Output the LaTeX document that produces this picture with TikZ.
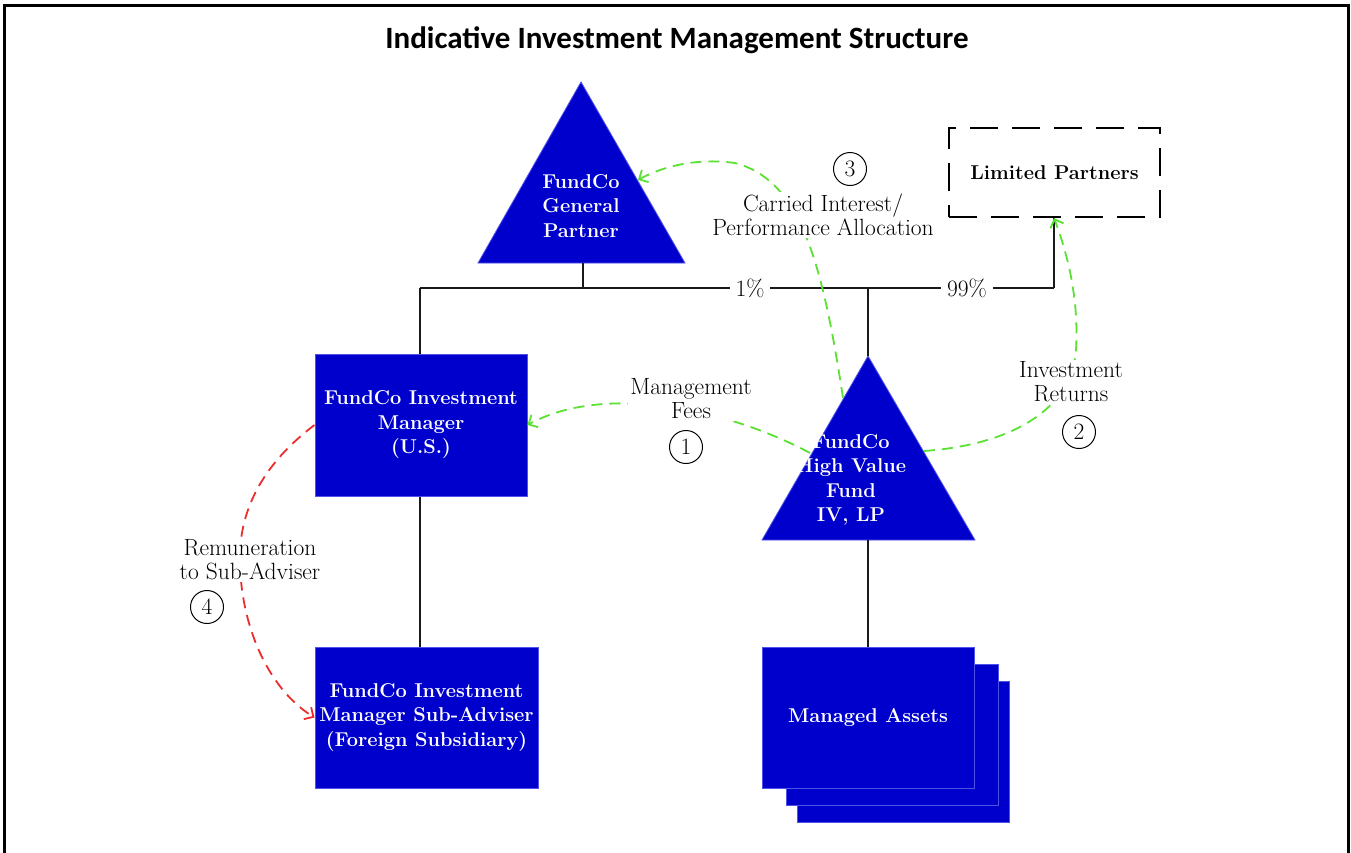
\documentclass[tikz,border=0pt]{standalone}
\usepackage{fontspec}
\newfontfamily\titlefont{Carlito}
\usetikzlibrary{arrows.meta}
\definecolor{boxblue}{RGB}{0,0,204}
\definecolor{edgeblue}{RGB}{80,80,235}
\definecolor{flowgreen}{RGB}{90,225,50}
\definecolor{flowred}{RGB}{235,45,45}
\newcommand\lblfont{\fontsize{23.5}{24}\selectfont}
\newcommand\boxfont{\fontsize{20}{24.5}\selectfont\bfseries}
\begin{document}
\begin{tikzpicture}[x=1pt,y=-1pt,
  bluebox/.style={fill=boxblue, draw=edgeblue, line width=1pt, text=white, font=\boxfont, align=center, inner sep=0pt},
  tri/.style={fill=boxblue, draw=edgeblue, line width=0.8pt},
  tritext/.style={text=white, font=\boxfont, align=center, inner sep=0pt},
  wire/.style={line width=1.8pt, black!90},
  flow/.style={dash pattern=on 11pt off 7pt, line width=1.8pt, -{Straight Barb[length=7pt,width=14pt]}},
  greenflow/.style={flow, draw=flowgreen},
  redflow/.style={flow, draw=flowred},
  lbl/.style={font=\lblfont, align=center, fill=white, inner sep=2pt},
  num/.style={circle, draw, line width=1pt, minimum size=33pt, inner sep=0pt, font=\lblfont},
  pct/.style={font=\lblfont, fill=white, inner xsep=6pt, inner ysep=2pt}
]
\useasboundingbox (0,0) rectangle (1351,852);
\draw[line width=3pt] (4,853) -- (4,5) -- (1348,5) -- (1348,853);

\node[font=\titlefont\fontsize{31}{34}\selectfont\bfseries] (title) at (677,40) {Indicative Investment Management Structure};

% General partner triangle
\coordinate (gpapex) at (581,82);
\coordinate (gpl) at (478,263);
\coordinate (gpr) at (685,263);
\coordinate (gpbase) at (583,263);
\coordinate (gpedge) at (638,180);
\draw[tri] (gpapex) -- (gpr) -- (gpl) -- cycle;
\node[tritext] (gp) at (581,206) {FundCo\\General\\Partner};

% Fund triangle
\coordinate (fapex) at (868,356);
\coordinate (fl) at (762,540);
\coordinate (fr) at (975,540);
\coordinate (fbase) at (868,540);
\coordinate (fedgeA) at (810,453);
\coordinate (fedgeB) at (843,398);
\coordinate (fedgeC) at (924,451);
\draw[tri] (fapex) -- (fr) -- (fl) -- cycle;
\node[tritext] (fund) at (851,480) {FundCo\\High Value\\Fund\\IV, LP};

% boxes
\node[bluebox, minimum width=212pt, minimum height=142pt] (im) at (421,425) {FundCo Investment\\Manager\\(U.S.)};
\node[bluebox, minimum width=223pt, minimum height=141pt] (sub) at (426.5,717.5) {FundCo Investment\\Manager Sub-Adviser\\(Foreign Subsidiary)};
\node[bluebox, minimum width=212pt, minimum height=141pt] (ma3) at (903.5,751.5) {};
\node[bluebox, minimum width=212pt, minimum height=141pt] (ma2) at (892,735) {};
\node[bluebox, minimum width=212pt, minimum height=141pt] (ma) at (868,717.5) {Managed Assets};

% limited partners
\node[draw, line width=2.2pt, dash pattern=on 28pt off 14pt, minimum width=211pt, minimum height=89pt, font=\boxfont] (lp) at (1054.5,172.5) {Limited Partners};

% wires
\coordinate (busl) at (420,288);
\coordinate (busm) at (868,288);
\coordinate (busr) at (1054,288);
\draw[wire] (gpbase) -- (583,288);
\draw[wire] (busl) -- (busr);
\draw[wire] (busl) -- (busl |- im.north);
\draw[wire] (busm) -- (fapex);
\draw[wire] (busr) -- (lp.south -| busr);
\draw[wire] (busl |- im.south) -- (busl |- sub.north);
\draw[wire] (fbase) -- (ma.north);
\node[pct] (p1) at (750,288) {1\%};
\node[pct] (p99) at (967,288) {99\%};

% flows
\draw[greenflow] (fedgeA) .. controls (720,405) and (600,385) .. (im.east |- 0,425);
\draw[greenflow] (fedgeC) .. controls (1010,445) and (1072,410) .. (1076,350) .. controls (1079,300) and (1068,255) .. (lp.south -| busr);
\draw[greenflow] (fedgeB) .. controls (822,260) and (800,180) .. (735,163) .. controls (700,158) and (665,165) .. (gpedge);
\draw[redflow] (im.west |- 0,425) .. controls (255,470) and (238,520) .. (240,565) .. controls (242,630) and (270,690) .. (sub.west);

% labels
\node[lbl] (mf) at (691,399) {Management\\Fees};
\node[num] (n1) at (686,447) {1};
\node[lbl] (ir) at (1071,382) {Investment\\Returns};
\node[num] (n2) at (1079,432) {2};
\node[lbl] (ci) at (823,215) {Carried Interest/\\Performance Allocation};
\node[num] (n3) at (850,169) {3};
\node[lbl] (rm) at (250,560) {Remuneration\\to Sub-Adviser};
\node[num] (n4) at (207,607) {4};
\end{tikzpicture}
\end{document}
